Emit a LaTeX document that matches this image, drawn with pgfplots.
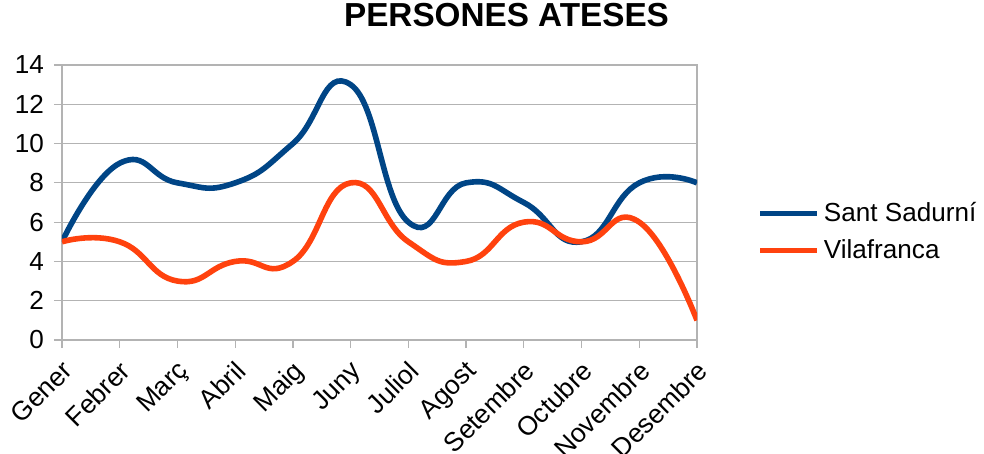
\documentclass[border=0pt]{standalone}
\usepackage{fontspec}
\setmainfont{Liberation Sans}
\usepackage{pgfplots}
\pgfplotsset{compat=1.18}
\definecolor{sant}{HTML}{004586}
\definecolor{vila}{HTML}{FF420E}
\definecolor{gridgray}{HTML}{B3B3B3}

\begin{document}
\begin{tikzpicture}
\path[use as bounding box] (-31bp,-57bp) rectangle (461bp,170bp);
\begin{axis}[
    at={(0,0)}, anchor=south west,
    scale only axis,
    width=317.5bp, height=137.5bp,
    xmin=0, xmax=11, ymin=0, ymax=14,
    xtick={0,...,11},
    xticklabels={Gener,Febrer,Març,Abril,Maig,Juny,Juliol,Agost,Setembre,Octubre,Novembre,Desembre},
    ytick={0,2,...,14},
    x tick label style={rotate=45, anchor=north east, font=\fontsize{13.3}{15}\selectfont, xshift=-1bp, yshift=0bp},
    y tick label style={font=\fontsize{13.1}{15}\selectfont, xshift=-1.5bp},
    /pgf/number format/assume math mode=true,
    ymajorgrids,
    grid style={gridgray, line width=0.6bp},
    axis line style={gridgray, line width=0.6bp},
    tick style={gridgray, line width=0.6bp},
    tick align=outside, major tick length=4bp,
    xtick pos=left, ytick pos=left,
    title={PERSONES ATESES},
    title style={font=\bfseries\fontsize{16.7}{18}\selectfont, at={(0.7,1)}, anchor=base, yshift=13.5bp},
    legend style={at={(1.085,0.393)}, anchor=west, draw=none, fill=none,
        font=\fontsize{13.1}{15}\selectfont, row sep=3.5bp},
    legend cell align=left,
    legend image code/.code={\draw[#1] (0bp,0bp) -- (28.5bp,0bp);},
]
\addplot[sant, line width=2.8bp, smooth, tension=0.85] coordinates {
    (0,5) (1,9) (2,8) (3,8) (4,10) (5,13) (6,6) (7,8) (8,7) (9,5) (10,8) (11,8)};
\addplot[vila, line width=2.8bp, smooth, tension=0.85] coordinates {
    (0,5) (1,5) (2,3) (3,4) (4,4) (5,8) (6,5) (7,4) (8,6) (9,5) (10,6) (11,1)};
\legend{Sant Sadurní, Vilafranca}
\end{axis}
\end{tikzpicture}
\end{document}
